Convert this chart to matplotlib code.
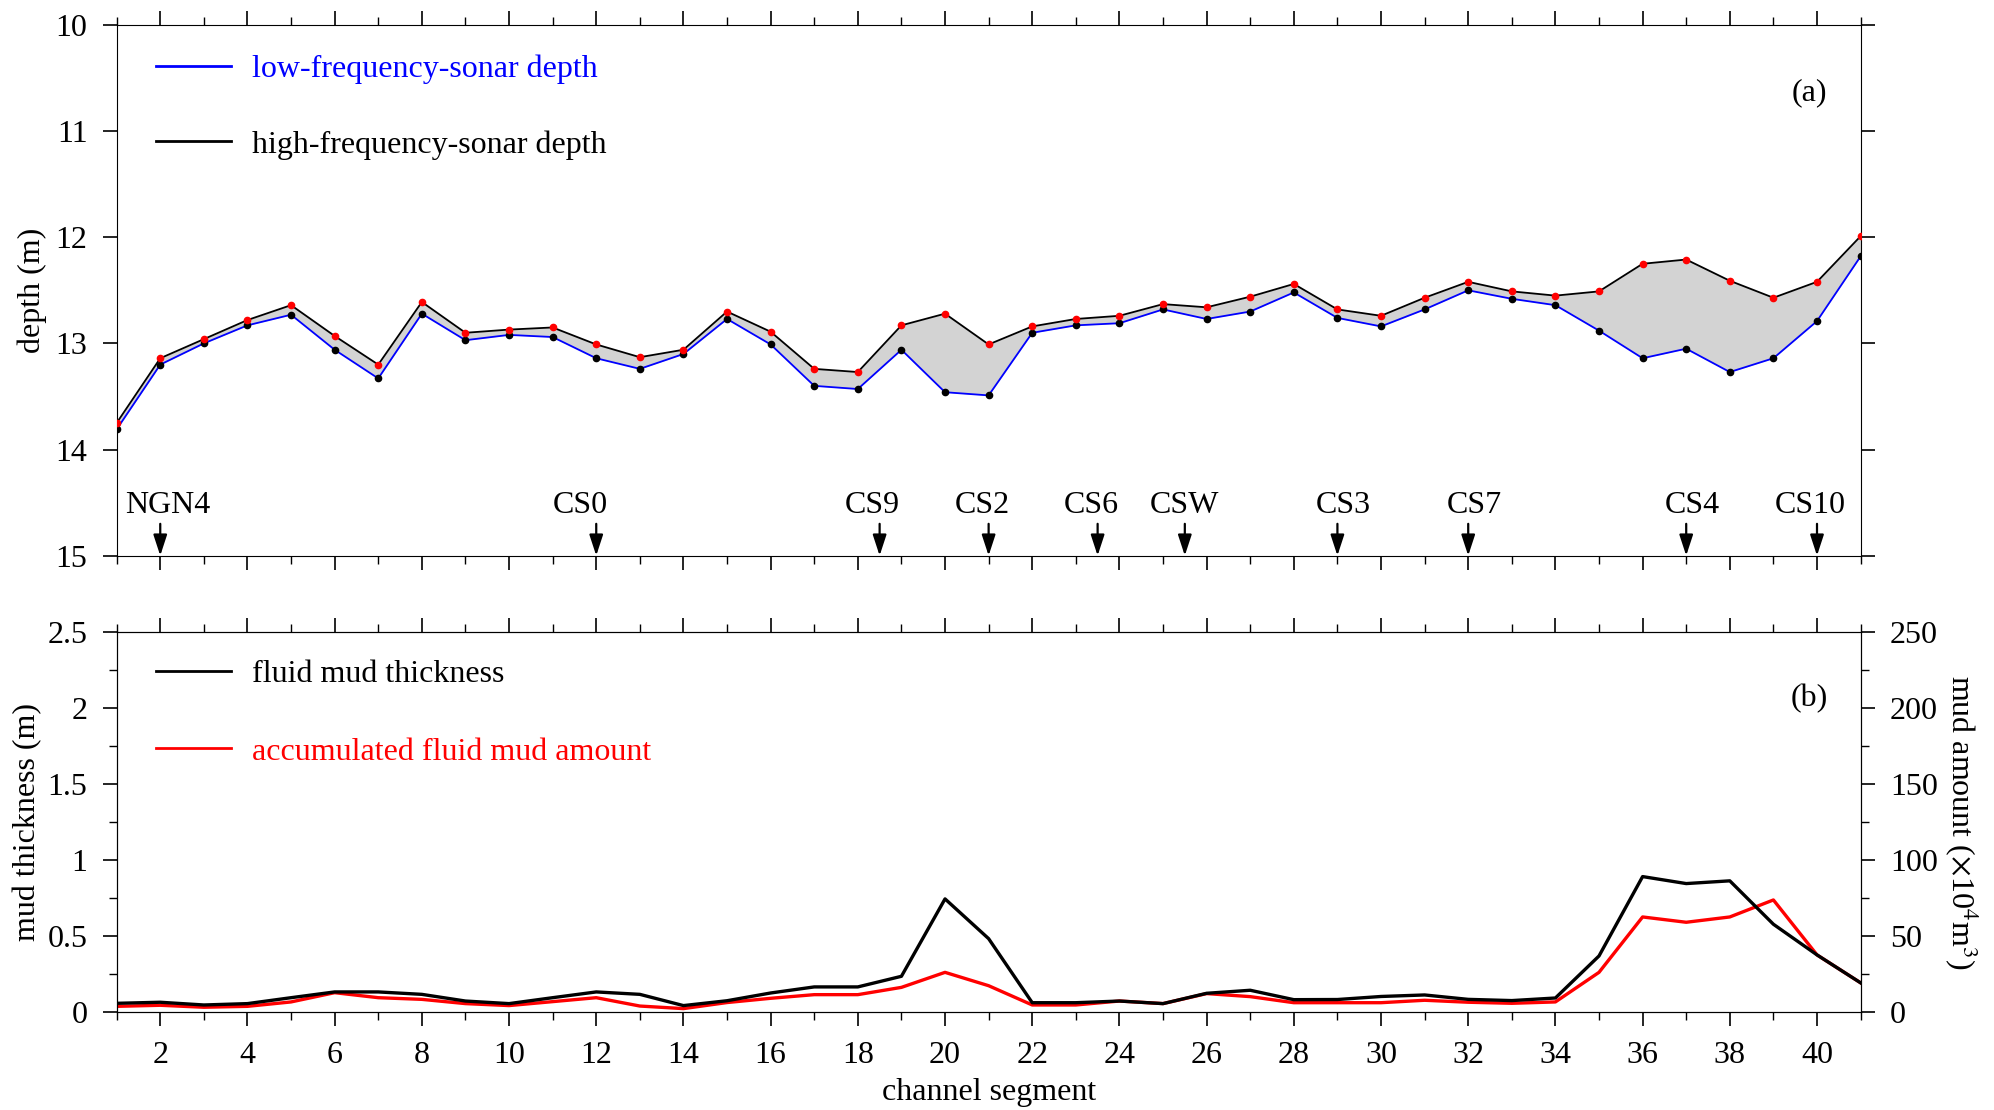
import numpy as np
import matplotlib.pyplot as plt
from matplotlib.lines import Line2D
from matplotlib.ticker import MultipleLocator, FormatStrFormatter

plt.rcParams['font.family'] = ['Liberation Serif', 'DejaVu Serif']
plt.rcParams['mathtext.fontset'] = 'stix'
plt.rcParams['font.size'] = 23

# channel segments 1..41
segment = np.arange(1, 42)

# depth from high-frequency sonar (top of fluid mud), m
hf_depth = [13.75, 13.14, 12.96, 12.78, 12.64, 12.93, 13.20, 12.61, 12.90, 12.87,
            12.85, 13.01, 13.13, 13.06, 12.70, 12.89, 13.24, 13.27, 12.83, 12.72,
            13.01, 12.84, 12.77, 12.74, 12.63, 12.66, 12.56, 12.44, 12.68, 12.74,
            12.57, 12.42, 12.51, 12.55, 12.51, 12.25, 12.21, 12.41, 12.57, 12.42,
            11.99]

# depth from low-frequency sonar, m
lf_depth = [13.81, 13.20, 13.00, 12.83, 12.73, 13.06, 13.33, 12.72, 12.97, 12.92,
            12.94, 13.14, 13.24, 13.10, 12.77, 13.01, 13.40, 13.43, 13.06, 13.46,
            13.49, 12.90, 12.83, 12.81, 12.68, 12.77, 12.70, 12.52, 12.76, 12.84,
            12.68, 12.50, 12.58, 12.64, 12.88, 13.14, 13.05, 13.27, 13.14, 12.79,
            12.18]

# fluid mud thickness, m
mud_thickness = [0.055, 0.062, 0.044, 0.053, 0.092, 0.13, 0.13, 0.114, 0.07, 0.053,
                 0.092, 0.13, 0.114, 0.04, 0.072, 0.123, 0.163, 0.163, 0.233, 0.743,
                 0.481, 0.059, 0.059, 0.07, 0.053, 0.121, 0.141, 0.079, 0.08, 0.10,
                 0.11, 0.081, 0.073, 0.09, 0.367, 0.89, 0.844, 0.862, 0.576, 0.374,
                 0.19]

# accumulated fluid mud amount, x10^4 m3
mud_amount = [3.5, 4.2, 2.9, 3.5, 6.4, 12.5, 9.2, 8.1, 5.3, 4.0,
              6.6, 9.2, 3.7, 2.0, 6.0, 8.8, 11.2, 11.2, 16.0, 25.9,
              17.1, 4.4, 4.4, 7.0, 5.3, 11.9, 9.9, 5.9, 5.9, 5.9,
              7.5, 6.2, 5.5, 6.4, 25.9, 62.4, 58.9, 62.4, 73.6, 37.4,
              19.0]

stations = ['NGN4', 'CS0', 'CS9', 'CS2', 'CS6', 'CSW', 'CS3', 'CS7', 'CS4', 'CS10']
station_pos = [2, 12, 18.5, 21, 23.5, 25.5, 29, 32, 37, 40]
# labels are not exactly centred over the arrows in the original
label_pos = [2.18, 11.63, 18.34, 20.85, 23.35, 25.49, 29.13, 32.13, 37.15, 39.84]


fig = plt.figure(figsize=(19.94, 11.10), dpi=100)
ax = fig.add_axes([0.0585, 0.4994, 0.8746, 0.4781])
axb = fig.add_axes([0.0585, 0.0886, 0.8746, 0.3418])

# ---- (a) depth ----
ax.fill_between(segment, hf_depth, lf_depth, color='lightgray', lw=0, zorder=1)
ax.plot(segment, lf_depth, color='blue', lw=1.3, zorder=2)
ax.plot(segment, hf_depth, color='black', lw=1.3, zorder=2)
ax.plot(segment, lf_depth, 'o', color='black', ms=4.5, zorder=3)
ax.plot(segment, hf_depth, 'o', color='red', ms=4.5, zorder=3)

ax.set_xlim(1, 41)
ax.set_ylim(15, 10)
ax.set_ylabel('depth (m)', labelpad=6)
ax.xaxis.set_major_locator(MultipleLocator(2))
ax.xaxis.set_minor_locator(MultipleLocator(1))
ax.yaxis.set_major_locator(MultipleLocator(1))
ax.tick_params(which='both', direction='out', top=True, right=True,
               labelbottom=False, pad=11)
ax.tick_params(which='major', length=10, width=1.2)
ax.tick_params(which='minor', length=6, width=1.0)

for name, pos, lpos in zip(stations, station_pos, label_pos):
    ax.annotate('', xy=(pos, 15), xytext=(pos, 14.7),
                arrowprops=dict(arrowstyle='-|>,head_width=0.18,head_length=0.55',
                                color='black', lw=1.6, shrinkA=0, shrinkB=0))
    ax.text(lpos, 14.53, name, ha='center', va='center')

handles = [Line2D([], [], color='blue', lw=2),
           Line2D([], [], color='black', lw=2)]
ax.legend(handles, ['low-frequency-sonar depth', 'high-frequency-sonar depth'],
          loc='upper left', bbox_to_anchor=(0.009, 0.99), frameon=False,
          labelcolor='linecolor', handlelength=2.35, handletextpad=0.65,
          labelspacing=1.45, borderaxespad=0.25, borderpad=0.5)
ax.text(0.981, 0.873, '(a)', transform=ax.transAxes, ha='right', va='center')

# ---- (b) mud ----
axb.plot(segment, mud_thickness, color='black', lw=2.4, zorder=3)
ax2 = axb.twinx()
ax2.plot(segment, mud_amount, color='red', lw=2.4)
axb.set_zorder(ax2.get_zorder() + 1)
axb.patch.set_visible(False)

axb.set_xlim(1, 41)
axb.set_ylim(0, 2.5)
ax2.set_ylim(0, 250)
axb.set_xlabel('channel segment', labelpad=6)
axb.set_ylabel('mud thickness (m)', labelpad=4)
ax2.set_ylabel(r'mud amount ($\times$10$^4$m$^3$)', rotation=270, labelpad=30)
axb.xaxis.set_major_locator(MultipleLocator(2))
axb.xaxis.set_minor_locator(MultipleLocator(1))
axb.yaxis.set_major_locator(MultipleLocator(0.5))
axb.yaxis.set_minor_locator(MultipleLocator(0.25))
axb.yaxis.set_major_formatter(FormatStrFormatter('%g'))
ax2.yaxis.set_major_locator(MultipleLocator(50))
ax2.yaxis.set_minor_locator(MultipleLocator(25))
axb.set_xticks(range(2, 41, 2))
for a in (axb, ax2):
    a.tick_params(which='both', direction='out', pad=11)
    a.tick_params(which='major', length=10, width=1.2)
    a.tick_params(which='minor', length=6, width=1.0)
axb.tick_params(which='both', top=True)

handles = [Line2D([], [], color='black', lw=2),
           Line2D([], [], color='red', lw=2)]
axb.legend(handles, ['fluid mud thickness', 'accumulated fluid mud amount'],
           loc='upper left', bbox_to_anchor=(0.009, 0.99), frameon=False,
           labelcolor='linecolor', handlelength=2.35, handletextpad=0.65,
           labelspacing=1.5, borderaxespad=0.25, borderpad=0.5)
axb.text(0.981, 0.825, '(b)', transform=axb.transAxes, ha='right', va='center')

fig.savefig('out.png', dpi=100)
